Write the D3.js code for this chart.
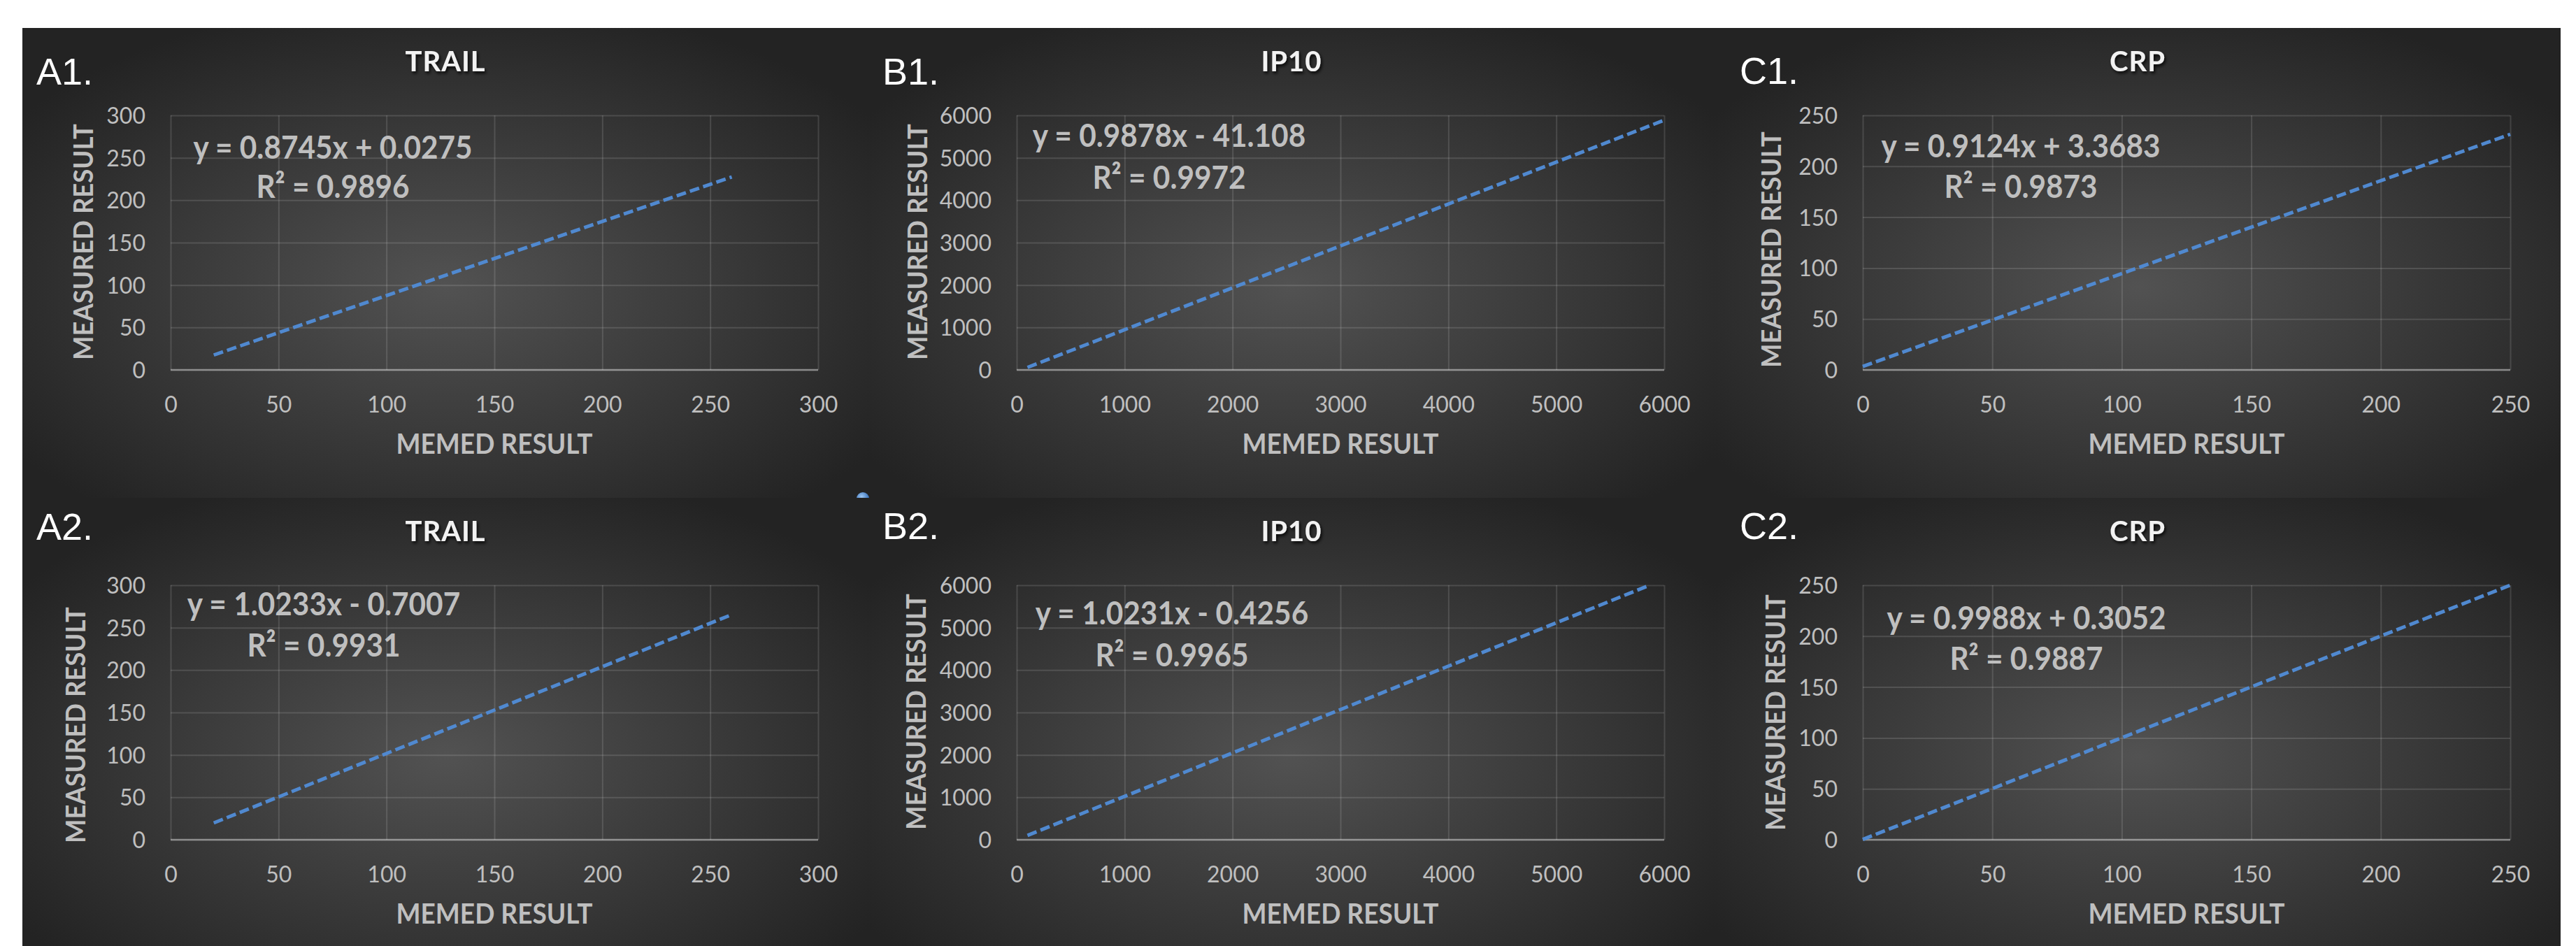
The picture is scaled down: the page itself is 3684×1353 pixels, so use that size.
<!DOCTYPE html>
<html><head><meta charset="utf-8">
<script src="https://cdn.jsdelivr.net/npm/d3@7"></script>
<style>html,body{margin:0;padding:0;background:#fff;overflow:hidden}</style>
</head><body><svg id="chart" width="3684" height="1353"></svg>
<script>
// ---------- data ----------
const panelLabels = ["A1.", "B1.", "C1.", "A2.", "B2.", "C2."];
const analytes = ["TRAIL", "IP10", "CRP", "TRAIL", "IP10", "CRP"];
const slopes = [0.8745, 0.9878, 0.9124, 1.0233, 1.0231, 0.9988];
const intercepts = [0.0275, -41.108, 3.3683, -0.7007, -0.4256, 0.3052];
const rSquared = [0.9896, 0.9972, 0.9873, 0.9931, 0.9965, 0.9887];
const fitStartX = [20, 100, 0, 20, 100, 0];
const fitEndX = [260, 6000, 250, 260, 5860, 250];
const axisMax = [300, 6000, 250, 300, 6000, 250];
const ticksTrail = [0, 50, 100, 150, 200, 250, 300];
const ticksIP10 = [0, 1000, 2000, 3000, 4000, 5000, 6000];
const ticksCRP = [0, 50, 100, 150, 200, 250];
const panelTicks = [ticksTrail, ticksIP10, ticksCRP, ticksTrail, ticksIP10, ticksCRP];
const xAxisTitle = "MEMED RESULT";
const yAxisTitle = "MEASURED RESULT";

// ---------- layout ----------
const panelW = 1210, panelH = 672;
const panelX = [32, 1242, 2452], panelY = [40, 712];
const plot = {left: 212, right: 1138, top: 125, bottom: 489};
const labelPos = [[20, 81], [20, 81], [36, 80], [20, 60], [20, 59], [36, 59]];
const eqPos = [[444, 187, 56], [430, 170, 60], [438, 185, 58], [431, 168, 59], [434, 181, 60], [446, 188, 58]];
const yTitlePos = [[87, 306], [70, 306], [81, 317], [76, 325], [68, 306], [87, 307]];
const tickColor = "#bfbfbf";
const lineColor = "#5089d0";
const font = "Lato, 'Open Sans', sans-serif";

const svg = d3.select("#chart");
const defs = svg.append("defs");
const bg = defs.append("radialGradient").attr("id", "panelBg")
  .attr("cx", "50%").attr("cy", "55%").attr("r", "62%");
bg.append("stop").attr("offset", "0%").attr("stop-color", "#525252");
bg.append("stop").attr("offset", "100%").attr("stop-color", "#232323");
const dotG = defs.append("radialGradient").attr("id", "dotBg")
  .attr("cx", "40%").attr("cy", "35%").attr("r", "65%");
dotG.append("stop").attr("offset", "0%").attr("stop-color", "#9cc6f2");
dotG.append("stop").attr("offset", "100%").attr("stop-color", "#2e68b3");
const sh = defs.append("filter").attr("id", "shadow")
  .attr("x", "-20%").attr("y", "-30%").attr("width", "150%").attr("height", "180%");
sh.append("feDropShadow").attr("dx", 2).attr("dy", 3).attr("stdDeviation", 2)
  .attr("flood-color", "#000").attr("flood-opacity", 0.8);

const fmt = d3.format(".5~g");
const fmtR = d3.format(".4f");
const tickFmt = d3.format("d");

function condense(sel, factor) {
  sel.each(function () {
    const w = this.getComputedTextLength();
    d3.select(this).attr("textLength", w * factor).attr("lengthAdjust", "spacingAndGlyphs");
  });
}

panelLabels.forEach((lab, i) => {
  const col = i % 3, row = Math.floor(i / 3);
  if (i === 3) {
    svg.append("circle").attr("cx", 1234).attr("cy", 713).attr("r", 9).attr("fill", "url(#dotBg)");
  }
  const g = svg.append("g").attr("transform", `translate(${panelX[col]},${panelY[row]})`);
  g.append("rect").attr("width", panelW).attr("height", panelH).attr("fill", "url(#panelBg)");

  const x = d3.scaleLinear().domain([0, axisMax[i]]).range([plot.left, plot.right]);
  const y = d3.scaleLinear().domain([0, axisMax[i]]).range([plot.bottom, plot.top]);
  const ticks = panelTicks[i];

  const xa = g.append("g").attr("transform", `translate(0,${plot.bottom})`)
    .call(d3.axisBottom(x).tickValues(ticks).tickFormat(tickFmt).tickSize(-(plot.bottom - plot.top)).tickPadding(0));
  xa.select(".domain").remove();
  xa.selectAll(".tick line").attr("stroke", "rgba(255,255,255,0.13)").attr("stroke-width", 2);
  xa.selectAll(".tick text").attr("y", 61).attr("dy", 0)
    .attr("fill", tickColor).style("font-family", font).style("font-size", "32px");

  const ya = g.append("g").attr("transform", `translate(${plot.left},0)`)
    .call(d3.axisLeft(y).tickValues(ticks).tickFormat(tickFmt).tickSize(-(plot.right - plot.left)).tickPadding(0));
  ya.select(".domain").remove();
  ya.selectAll(".tick line").attr("stroke", "rgba(255,255,255,0.13)").attr("stroke-width", 2);
  ya.selectAll(".tick text").attr("x", -36).attr("dy", "0.36em")
    .attr("fill", tickColor).style("font-family", font).style("font-size", "32px");

  g.append("line").attr("x1", plot.left).attr("x2", plot.right)
    .attr("y1", plot.bottom).attr("y2", plot.bottom)
    .attr("stroke", "rgba(255,255,255,0.38)").attr("stroke-width", 2.5);

  const pts = [fitStartX[i], fitEndX[i]].map(v => [v, slopes[i] * v + intercepts[i]]);
  g.append("path").datum(pts)
    .attr("d", d3.line().x(d => x(d[0])).y(d => y(d[1])))
    .attr("fill", "none").attr("stroke", lineColor).attr("stroke-width", 5)
    .attr("stroke-dasharray", "14,6");

  const eq = `y = ${fmt(slopes[i])}x ${intercepts[i] < 0 ? "-" : "+"} ${fmt(Math.abs(intercepts[i]))}`;
  const [ex, ey, edy] = eqPos[i];
  const eqG = g.append("g").attr("fill", tickColor)
    .style("font-family", font).style("font-weight", "bold").style("font-size", "46px")
    .attr("text-anchor", "middle");
  eqG.append("text").attr("x", ex).attr("y", ey).text(eq);
  eqG.append("text").attr("x", ex).attr("y", ey + edy).text(`R² = ${fmtR(rSquared[i])}`);
  condense(eqG.selectAll("text"), 0.92);

  g.append("text").attr("x", panelW / 2).attr("y", 62).attr("text-anchor", "middle")
    .attr("fill", "#f2f2f2").attr("filter", "url(#shadow)")
    .style("font-family", font).style("font-weight", "bold")
    .style("font-size", "40px").style("letter-spacing", "1px").text(analytes[i]);

  g.append("text").attr("x", (plot.left + plot.right) / 2).attr("y", 609).attr("text-anchor", "middle")
    .attr("fill", tickColor).style("font-family", font).style("font-weight", "bold")
    .style("font-size", "41px").attr("textLength", 281).attr("lengthAdjust", "spacingAndGlyphs").text(xAxisTitle);
  const [tx, ty] = yTitlePos[i];
  g.append("text").attr("transform", `translate(${tx + 14},${ty}) rotate(-90)`).attr("text-anchor", "middle")
    .attr("fill", tickColor).style("font-family", font).style("font-weight", "bold")
    .style("font-size", "38px").attr("textLength", 338).attr("lengthAdjust", "spacingAndGlyphs").text(yAxisTitle);

  g.append("text").attr("x", labelPos[i][0]).attr("y", labelPos[i][1])
    .attr("fill", "#ffffff").style("font-family", "'Liberation Sans', Arial, sans-serif")
    .style("font-size", "54px").text(lab);
});
</script></body></html>
